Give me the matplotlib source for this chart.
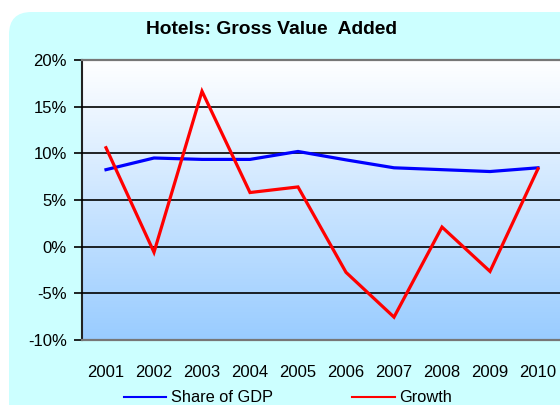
import numpy as np
import matplotlib
matplotlib.use("Agg")
import matplotlib.pyplot as plt
from matplotlib.patches import FancyBboxPatch
from matplotlib.lines import Line2D
from matplotlib.colors import LinearSegmentedColormap
from matplotlib.ticker import FuncFormatter

plt.rcParams['font.family'] = ['Liberation Sans', 'DejaVu Sans']

years = ["2001", "2002", "2003", "2004", "2005", "2006", "2007", "2008", "2009", "2010"]
share_of_gdp = [8.25, 9.5, 9.35, 9.35, 10.2, 9.3, 8.45, 8.25, 8.05, 8.45]
growth = [10.6, -0.6, 16.65, 5.8, 6.4, -2.75, -7.55, 2.1, -2.65, 8.35]

W, H = 560, 405
fig = plt.figure(figsize=(W / 100, H / 100), dpi=100)
fig.patch.set_facecolor("white")

# cyan chart area with rounded corners, running off the right and bottom
box = FancyBboxPatch((9 / W, -40 / H), (W + 40) / W, (H - 12 + 40) / H,
                     boxstyle="round,pad=0,rounding_size=0.04",
                     transform=fig.transFigure, facecolor="#ccffff",
                     edgecolor="none", zorder=-10, mutation_aspect=W / H)
fig.patches.append(box)

left, top, bottom = 82, 60, 340
step = 48.0
right = left + 10 * step
ax = fig.add_axes([left / W, 1 - bottom / H, (right - left) / W, (bottom - top) / H])
ax.set_zorder(2)
ax.set_facecolor("none")

# gradient plot area, white at top to light blue at bottom
grad = np.linspace(0, 1, 256).reshape(-1, 1)
cmap = LinearSegmentedColormap.from_list("bg", ["#ffffff", "#99ccff"])
ax.imshow(grad, aspect="auto", cmap=cmap, extent=[0, 1, 0, 1],
          origin="upper", transform=ax.transAxes, zorder=0)

x = np.arange(len(years))
ax.set_xlim(-0.5, len(years) - 0.5)
ax.set_ylim(-10, 20)
ax.set_yticks(range(-10, 21, 5))
ax.yaxis.set_major_formatter(FuncFormatter(lambda v, p: "%d%%" % v))
ax.grid(axis="y", color="black", linewidth=1.2, zorder=1)
ax.set_axisbelow(False)

ax.plot(x, share_of_gdp, color="#0000ff", linewidth=2.3, zorder=3,
        solid_joinstyle="miter")
ax.plot(x, growth, color="#ff0000", linewidth=2.3, zorder=4,
        solid_joinstyle="miter")

ax.set_xticks(x)
ax.set_xticklabels(years)
ax.tick_params(axis="x", length=0, pad=18, labelsize=12)
ax.tick_params(axis="y", length=6, width=1.2, pad=5, labelsize=12)

ax.spines["right"].set_visible(False)
ax.spines["left"].set_linewidth(1.5)
ax.spines["left"].set_color("#222222")
for s in ["top", "bottom"]:
    ax.spines[s].set_linewidth(1.6)
    ax.spines[s].set_color("#777777")
    ax.spines[s].set_zorder(2.8)

fig.text(272 / W, 1 - 30 / H, "Hotels: Gross Value  Added", ha="center",
         va="center", fontsize=13.9, fontweight="bold")

h1 = Line2D([], [], color="#0000ff", linewidth=1.5)
h2 = Line2D([], [], color="#ff0000", linewidth=1.5)
fig.legend(handles=[h1, h2], labels=["Share of GDP", "Growth"], loc="center",
           bbox_to_anchor=(288 / W, 1 - 398 / H), ncol=2, frameon=False,
           fontsize=11.8, handlelength=2.62, columnspacing=4.8,
           handletextpad=0.29, borderpad=0)

fig.savefig("out.png", dpi=100)
